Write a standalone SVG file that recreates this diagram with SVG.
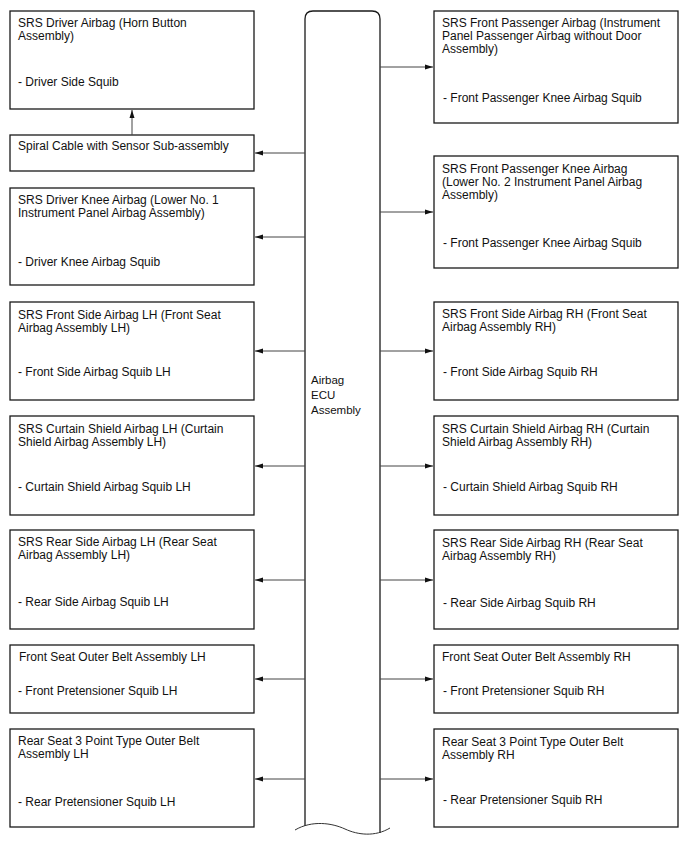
<svg xmlns="http://www.w3.org/2000/svg" width="688" height="852" viewBox="0 0 688 852">
<style>
.box{fill:#fff;stroke:#1a1a1a;stroke-width:1.3}
.col{fill:#fff;stroke:#1a1a1a;stroke-width:1.3}
.t{font-family:"Liberation Sans",Arial,sans-serif;font-size:12px;fill:#111}
.e{font-family:"Liberation Sans",Arial,sans-serif;font-size:11.5px;fill:#111}
.c{stroke:#444;stroke-width:1;fill:none}
</style>
<defs>
<marker id="ah" markerWidth="9" markerHeight="6" refX="8" refY="3" orient="auto" markerUnits="userSpaceOnUse">
<path d="M0,0.5 L8,3 L0,5.5 z" fill="#111"/>
</marker>
</defs>
<rect width="688" height="852" fill="#fff"/>

<g id="ecu">
<path class="col" d="M305,826 L305,19 Q305,11 313,11 L372,11 Q380,11 380,19 L380,833"/>
<path d="M295,830 C312,820 332,823 345,829 C358,835 375,837 390,828" fill="none" stroke="#333" stroke-width="1"/>
<text class="e" x="311" y="384">Airbag</text>
<text class="e" x="311" y="399">ECU</text>
<text class="e" x="311" y="414">Assembly</text>
</g>

<g id="driver-airbag">
<rect class="box" x="10" y="11" width="244" height="98"/>
<text class="t" x="18" y="27">SRS Driver Airbag (Horn Button</text>
<text class="t" x="18" y="40">Assembly)</text>
<text class="t" x="18" y="86">- Driver Side Squib</text>
</g>
<g id="spiral-cable">
<rect class="box" x="10" y="135" width="244" height="36"/>
<text class="t" x="18" y="150">Spiral Cable with Sensor Sub-assembly</text>
</g>
<g id="driver-knee">
<rect class="box" x="10" y="188" width="244" height="97"/>
<text class="t" x="18" y="204">SRS Driver Knee Airbag (Lower No. 1</text>
<text class="t" x="18" y="217">Instrument Panel Airbag Assembly)</text>
<text class="t" x="18" y="266">- Driver Knee Airbag Squib</text>
</g>
<g id="front-side-lh">
<rect class="box" x="10" y="302" width="244" height="98"/>
<text class="t" x="18" y="319">SRS Front Side Airbag LH (Front Seat</text>
<text class="t" x="18" y="332">Airbag Assembly LH)</text>
<text class="t" x="18" y="376">- Front Side Airbag Squib LH</text>
</g>
<g id="curtain-lh">
<rect class="box" x="10" y="416" width="244" height="99"/>
<text class="t" x="18" y="433">SRS Curtain Shield Airbag LH (Curtain</text>
<text class="t" x="18" y="446">Shield Airbag Assembly LH)</text>
<text class="t" x="18" y="491">- Curtain Shield Airbag Squib LH</text>
</g>
<g id="rear-side-lh">
<rect class="box" x="10" y="530" width="244" height="99"/>
<text class="t" x="18" y="546">SRS Rear Side Airbag LH (Rear Seat</text>
<text class="t" x="18" y="559">Airbag Assembly LH)</text>
<text class="t" x="18" y="606">- Rear Side Airbag Squib LH</text>
</g>
<g id="front-belt-lh">
<rect class="box" x="10" y="645" width="244" height="68"/>
<text class="t" x="19" y="661">Front Seat Outer Belt Assembly LH</text>
<text class="t" x="18" y="695">- Front Pretensioner Squib LH</text>
</g>
<g id="rear-belt-lh">
<rect class="box" x="10" y="729" width="244" height="98"/>
<text class="t" x="18" y="745">Rear Seat 3 Point Type Outer Belt</text>
<text class="t" x="18" y="758">Assembly LH</text>
<text class="t" x="18" y="806">- Rear Pretensioner Squib LH</text>
</g>

<g id="fp-airbag">
<rect class="box" x="434" y="11" width="244" height="112"/>
<text class="t" x="442" y="27">SRS Front Passenger Airbag (Instrument</text>
<text class="t" x="442" y="40">Panel Passenger Airbag without Door</text>
<text class="t" x="442" y="53">Assembly)</text>
<text class="t" x="443" y="102">- Front Passenger Knee Airbag Squib</text>
</g>
<g id="fp-knee">
<rect class="box" x="434" y="156" width="244" height="112"/>
<text class="t" x="442" y="173">SRS Front Passenger Knee Airbag</text>
<text class="t" x="442" y="186">(Lower No. 2 Instrument Panel Airbag</text>
<text class="t" x="442" y="199">Assembly)</text>
<text class="t" x="443" y="247">- Front Passenger Knee Airbag Squib</text>
</g>
<g id="front-side-rh">
<rect class="box" x="434" y="302" width="244" height="98"/>
<text class="t" x="442" y="318">SRS Front Side Airbag RH (Front Seat</text>
<text class="t" x="442" y="331">Airbag Assembly RH)</text>
<text class="t" x="443" y="376">- Front Side Airbag Squib RH</text>
</g>
<g id="curtain-rh">
<rect class="box" x="434" y="416" width="244" height="99"/>
<text class="t" x="442" y="433">SRS Curtain Shield Airbag RH (Curtain</text>
<text class="t" x="442" y="446">Shield Airbag Assembly RH)</text>
<text class="t" x="443" y="491">- Curtain Shield Airbag Squib RH</text>
</g>
<g id="rear-side-rh">
<rect class="box" x="434" y="530" width="244" height="99"/>
<text class="t" x="442" y="547">SRS Rear Side Airbag RH (Rear Seat</text>
<text class="t" x="442" y="560">Airbag Assembly RH)</text>
<text class="t" x="443" y="607">- Rear Side Airbag Squib RH</text>
</g>
<g id="front-belt-rh">
<rect class="box" x="434" y="645" width="244" height="68"/>
<text class="t" x="442" y="661">Front Seat Outer Belt Assembly RH</text>
<text class="t" x="443" y="695">- Front Pretensioner Squib RH</text>
</g>
<g id="rear-belt-rh">
<rect class="box" x="434" y="729" width="244" height="98"/>
<text class="t" x="442" y="746">Rear Seat 3 Point Type Outer Belt</text>
<text class="t" x="442" y="759">Assembly RH</text>
<text class="t" x="443" y="804">- Rear Pretensioner Squib RH</text>
</g>

<g id="connectors">
<line class="c" x1="132" y1="135" x2="132" y2="110" marker-end="url(#ah)"/>
<line class="c" x1="305" y1="153" x2="255" y2="153" marker-end="url(#ah)"/>
<line class="c" x1="305" y1="237" x2="255" y2="237" marker-end="url(#ah)"/>
<line class="c" x1="305" y1="351" x2="255" y2="351" marker-end="url(#ah)"/>
<line class="c" x1="305" y1="466" x2="255" y2="466" marker-end="url(#ah)"/>
<line class="c" x1="305" y1="580" x2="255" y2="580" marker-end="url(#ah)"/>
<line class="c" x1="305" y1="679" x2="255" y2="679" marker-end="url(#ah)"/>
<line class="c" x1="305" y1="779" x2="255" y2="779" marker-end="url(#ah)"/>
<line class="c" x1="380" y1="67" x2="433" y2="67" marker-end="url(#ah)"/>
<line class="c" x1="380" y1="212" x2="433" y2="212" marker-end="url(#ah)"/>
<line class="c" x1="380" y1="351" x2="433" y2="351" marker-end="url(#ah)"/>
<line class="c" x1="380" y1="466" x2="433" y2="466" marker-end="url(#ah)"/>
<line class="c" x1="380" y1="580" x2="433" y2="580" marker-end="url(#ah)"/>
<line class="c" x1="380" y1="679" x2="433" y2="679" marker-end="url(#ah)"/>
<line class="c" x1="380" y1="779" x2="433" y2="779" marker-end="url(#ah)"/>
</g>
</svg>
